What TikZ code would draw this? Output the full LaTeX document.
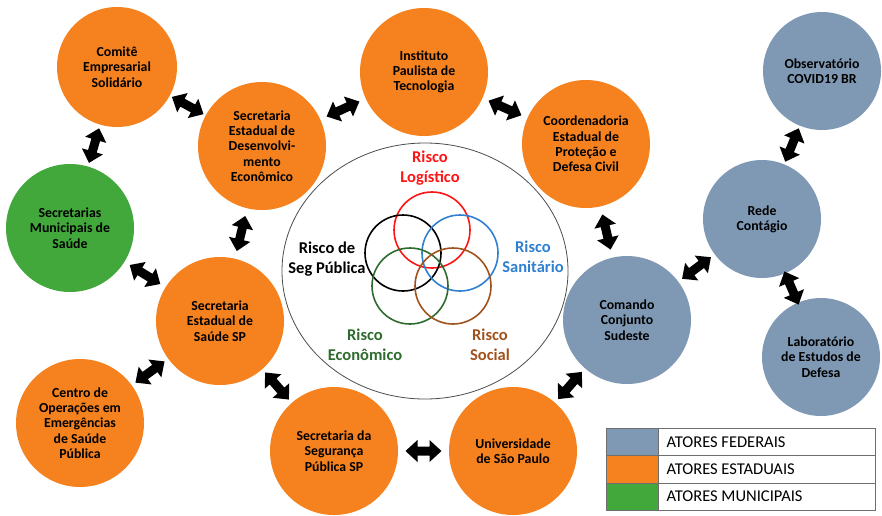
\documentclass[tikz,border=0pt]{standalone}
\usepackage{fontspec}
\setmainfont{Carlito}

\definecolor{federal}{HTML}{7F99B5}
\definecolor{estadual}{HTML}{F6821F}
\definecolor{municipal}{HTML}{42A83C}
\definecolor{rlog}{HTML}{FF1414}
\definecolor{rsan}{HTML}{2F80D0}
\definecolor{reco}{HTML}{2E6B2E}
\definecolor{rsoc}{HTML}{A0521C}
\definecolor{legline}{HTML}{6E6E6E}

\tikzset{
  actor/.style={circle, inner sep=0pt, minimum size=#1, align=center,
    font=\bfseries\fontsize{13.8}{15.3}\selectfont, text=black},
  fed/.style={actor=#1, fill=federal},
  est/.style={actor=#1, fill=estadual},
  mun/.style={actor=#1, fill=municipal},
  % block double-headed arrow, drawn along the line joining two actors
  dblarrow/.pic={
    \fill[black] (-18,0) -- (-6,11) -- (-6,4.5) -- (6,4.5) -- (6,11) -- (18,0)
      -- (6,-11) -- (6,-4.5) -- (-6,-4.5) -- (-6,-11) -- cycle;
  },
  venn/.style={draw=#1, line width=1.6pt},
  risklabel/.style={align=center, font=\bfseries\fontsize{16.5}{20}\selectfont, text=#1},
  legcell/.style={draw=legline, line width=0.8pt, minimum height=27.3pt, inner sep=0pt},
  legtext/.style={font=\fontsize{16.5}{20}\selectfont, anchor=west}
}

\begin{document}
\begin{tikzpicture}[x=1pt, y=-1pt]
\useasboundingbox (0,0) rectangle (882,515);

% central risk ellipse
\draw[draw=black!70, line width=0.8pt] (425,271) ellipse [x radius=143, y radius=128];

% overlapping risk circles
\draw[venn=rlog]  (432,230) circle [radius=38];
\draw[venn=black] (403,253) circle [radius=38];
\draw[venn=rsan]  (460,253) circle [radius=38];
\draw[venn=reco]  (410,286) circle [radius=38];
\draw[venn=rsoc]  (453,286) circle [radius=38];

\node[risklabel=rlog]  (rl) at (430,168) {Risco\\Logístico};
\node[risklabel=black] (rp) at (327,259) {Risco de\\Seg Pública};
\node[risklabel=rsan]  (rs) at (533,257) {Risco\\Sanitário};
\node[risklabel=reco]  (re) at (365,345) {Risco\\Econômico};
\node[risklabel=rsoc]  (ro) at (490,345) {Risco\\Social};

% actors
\node[est=120pt] (comite) at (117,67)  {Comitê\\Empresarial\\Solidário};
\node[est=128pt] (desenv) at (262,146) {Secretaria\\Estadual de\\Desenvolvi-\\mento\\Econômico};
\node[est=128pt] (ipt)    at (424,72)  {Instituto\\Paulista de\\Tecnologia};
\node[est=128pt] (defciv) at (586,144) {Coordenadoria\\Estadual de\\Proteção e\\Defesa Civil};
\node[mun=128pt] (munic)  at (70,228)  {Secretarias\\Municipais de\\Saúde};
\node[est=128pt] (saude)  at (220,321) {Secretaria\\Estadual de\\Saúde SP};
\node[est=128pt] (coe)    at (80,423)  {Centro de\\Operações em\\Emergências\\de Saúde\\Pública};
\node[est=128pt] (ssp)    at (334,451) {Secretaria da\\Segurança\\Pública SP};
\node[est=128pt] (usp)    at (513,451) {Universidade\\de São Paulo};
\node[fed=128pt] (comando) at (627,320) {Comando\\Conjunto\\Sudeste};
\node[fed=118pt] (obs)    at (822,71)  {Observatório\\COVID19 BR};
\node[fed=118pt] (rede)   at (762,219) {Rede\\Contágio};
\node[fed=118pt] (lab)    at (821,357) {Laboratório\\de Estudos de\\Defesa};

% two-way links
\path (comite) -- (desenv)  pic[midway, sloped] {dblarrow};
\path (comite) -- (munic)   pic[midway, sloped] {dblarrow};
\path (desenv) -- (ipt)     pic[midway, sloped] {dblarrow};
\path (desenv) -- (saude)   pic[midway, sloped] {dblarrow};
\path (ipt)    -- (defciv)  pic[midway, sloped] {dblarrow};
\path (defciv) -- (comando) pic[midway, sloped] {dblarrow};
\path (munic)  -- (saude)   pic[midway, sloped] {dblarrow};
\path (saude)  -- (coe)     pic[midway, sloped] {dblarrow};
\path (saude)  -- (ssp)     pic[midway, sloped] {dblarrow};
\path (ssp)    -- (usp)     pic[midway, sloped] {dblarrow};
\path (usp)    -- (comando) pic[midway, sloped] {dblarrow};
\path (comando) -- (rede)   pic[midway, sloped] {dblarrow};
\path (rede)   -- (obs)     pic[midway, sloped] {dblarrow};
\path (rede)   -- (lab)     pic[midway, sloped] {dblarrow};

% legend
\node[legcell, fill=federal,   minimum width=52pt, anchor=north west] (lf) at (606,428) {};
\node[legcell, fill=estadual,  minimum width=52pt, anchor=north west] (le) at (606,455.3) {};
\node[legcell, fill=municipal, minimum width=52pt, anchor=north west] (lm) at (606,482.6) {};
\node[legcell, minimum width=217pt, anchor=north west] (tf) at (658,428) {};
\node[legcell, minimum width=217pt, anchor=north west] (te) at (658,455.3) {};
\node[legcell, minimum width=217pt, anchor=north west] (tm) at (658,482.6) {};
\node[legtext] at ([xshift=5pt]tf.west) {ATORES FEDERAIS};
\node[legtext] at ([xshift=5pt]te.west) {ATORES ESTADUAIS};
\node[legtext] at ([xshift=5pt]tm.west) {ATORES MUNICIPAIS};
\end{tikzpicture}
\end{document}
